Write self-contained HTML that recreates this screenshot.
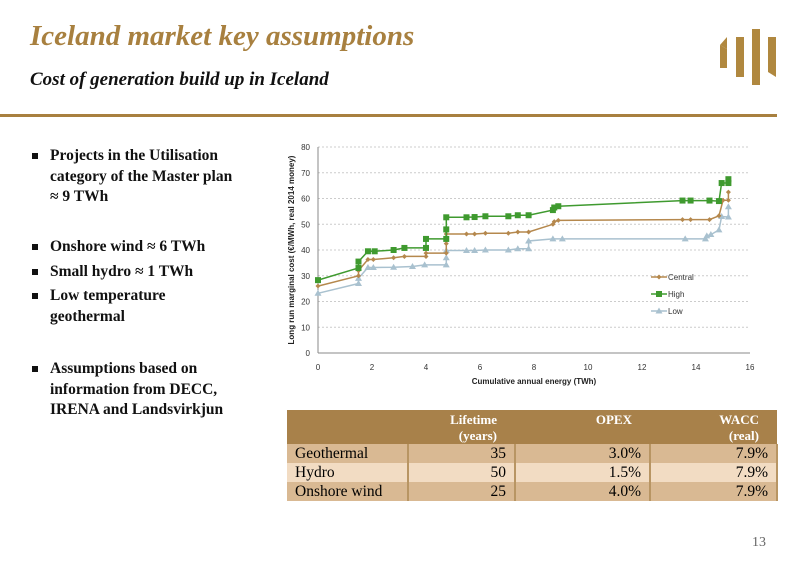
<!DOCTYPE html><html><head><meta charset="utf-8"><style>
body{margin:0;width:806px;height:568px;background:#fff;position:relative;overflow:hidden;font-family:"Liberation Serif",serif}
.t{position:absolute;color:#a8803f;font-weight:bold;font-style:italic}
ul{position:absolute;left:30px;width:240px;margin:0;padding:0;list-style:none;font-weight:bold;font-size:15.5px;color:#111}
li{position:relative;padding-left:20px;line-height:20.5px}
li:before{content:"";position:absolute;left:2px;top:7px;width:6px;height:6px;background:#111}
table{position:absolute;left:287px;top:410px;width:490px;border-collapse:collapse;font-size:15.5px;table-layout:fixed}
td{padding:0 8px;height:19px;text-align:right;border-right:2px solid #b89563}
td:first-child{text-align:left;padding-left:8px}
th{background:#a8814a;color:#fff;font-size:13px;text-align:right;padding:2px 18px 0 8px;height:32px;vertical-align:top;line-height:16px}
tr.a td{background:#d9b993}tr.b td{background:#f2dcc3}
</style></head><body>
<div class="t" style="left:30px;top:20px;font-size:29px">Iceland market key assumptions</div>
<div class="t" style="left:30px;top:69px;font-size:19px;color:#111">Cost of generation build up in Iceland</div>
<div style="position:absolute;left:0;top:114px;width:777px;height:3px;background:#a8803f"></div>
<svg style="position:absolute;left:0;top:0" width="806" height="120">
<g fill="#b0883f"><polygon points="720,45 727,49 727,68 720,68"/><polygon points="727,37 727,49 720,45"/><rect x="736" y="37" width="8" height="40"/><rect x="752" y="29" width="8" height="56"/><polygon points="768,37 776,37 776,77 768,72"/></g>
</svg>
<ul style="top:146px"><li>Projects in the Utilisation category of the Master plan<br>≈ 9 TWh</li></ul>
<ul style="top:237px"><li>Onshore wind ≈ 6 TWh</li><li style="margin-top:4px">Small hydro ≈ 1 TWh</li><li style="margin-top:4px">Low temperature<br>geothermal</li></ul>
<ul style="top:359px"><li>Assumptions based on information from DECC, IRENA and Landsvirkjun</li></ul>
<svg id="c" style="position:absolute;left:0;top:0" width="806" height="400" font-family="Liberation Sans,sans-serif"></svg>
<table><col style="width:121px"><col style="width:107px"><col style="width:135px"><col style="width:127px">
<tr><th></th><th>Lifetime<br>(years)</th><th>OPEX</th><th>WACC<br>(real)</th></tr>
<tr class="a"><td>Geothermal</td><td>35</td><td>3.0%</td><td>7.9%</td></tr>
<tr class="b"><td>Hydro</td><td>50</td><td>1.5%</td><td>7.9%</td></tr>
<tr class="a"><td>Onshore wind</td><td>25</td><td>4.0%</td><td>7.9%</td></tr></table>
<div style="position:absolute;left:752px;top:535px;font-size:14px;color:#666">13</div>
<script>
var X=x=>318+x*27,Y=y=>353-y*2.575,s='';
for(var v=0;v<=80;v+=10){s+=`<line x1="318" x2="750" y1="${Y(v)}" y2="${Y(v)}" stroke="#ccc" stroke-dasharray="2,2"/><text x="310" y="${Y(v)+3}" font-size="8" text-anchor="end" fill="#333">${v}</text>`}
for(var v=0;v<=16;v+=2)s+=`<text x="${X(v)}" y="370" font-size="8" text-anchor="middle" fill="#333">${v}</text>`;
s+=`<line x1="318" x2="318" y1="147" y2="353" stroke="#888"/><line x1="318" x2="750" y1="353" y2="353" stroke="#888"/>`;
s+=`<text x="534" y="384" font-size="8" font-weight="bold" text-anchor="middle" fill="#222">Cumulative annual energy (TWh)</text>`;
s+=`<text transform="translate(294,250) rotate(-90)" font-size="8" font-weight="bold" text-anchor="middle" fill="#222">Long run marginal cost (€/MWh, real 2014 money)</text>`;
var C=[[0,26],[1.5,30],[1.5,32],[1.85,36.3],[2.05,36.3],[2.8,37],[3.2,37.5],[4,37.5],[4,38.8],[4.75,38.8],[4.75,42.5],[4.75,46.2],[5.5,46.2],[5.8,46.2],[6.2,46.5],[7.05,46.5],[7.4,47],[7.8,47],[8.7,50],[8.75,51],[8.9,51.5],[13.5,51.8],[13.8,51.8],[14.5,51.8],[14.85,53.3],[15,59.3],[15.2,59.3],[15.2,62.5]];
var H=[[0,28.3],[1.5,33],[1.5,35.5],[1.85,39.5],[2.1,39.5],[2.8,40],[3.2,40.8],[4,40.8],[4,44.3],[4.75,44.3],[4.75,48],[4.75,52.7],[5.5,52.7],[5.8,52.8],[6.2,53.1],[7.05,53.1],[7.4,53.5],[7.8,53.5],[8.7,55.5],[8.75,56.5],[8.9,57],[13.5,59.2],[13.8,59.2],[14.5,59.2],[14.85,59],[14.95,66],[15.2,66],[15.2,67.5]];
var L=[[0,23.2],[1.5,27],[1.5,29],[1.85,33.2],[2.05,33.2],[2.8,33.3],[3.5,33.6],[3.95,34.2],[4.75,34.2],[4.75,37],[4.75,39.8],[5.5,39.8],[5.8,39.8],[6.2,40],[7.05,40],[7.4,40.5],[7.8,40.5],[7.8,43.5],[8.7,44.3],[9.05,44.3],[13.6,44.3],[14.35,44.3],[14.4,45.5],[14.55,46],[14.85,47.8],[14.95,53],[15.2,52.8],[15.2,56.8]];
function ser(d,c,m){var p=d.map(q=>X(q[0]).toFixed(1)+','+Y(q[1]).toFixed(1)).join(' ');s+=`<polyline points="${p}" fill="none" stroke="${c}" stroke-width="1.5"/>`;d.forEach(q=>s+=m(X(q[0]),Y(q[1])))}
var sq=c=>(x,y)=>`<rect x="${x-3}" y="${y-3}" width="6" height="6" fill="${c}"/>`;
var tr=c=>(x,y)=>`<polygon points="${x},${y-3.5} ${x+3.5},${y+2.5} ${x-3.5},${y+2.5}" fill="${c}"/>`;
var di=c=>(x,y)=>`<polygon points="${x},${y-2.5} ${x+2.5},${y} ${x},${y+2.5} ${x-2.5},${y}" fill="${c}"/>`;
ser(L,'#a9c1cf',tr('#a9c1cf'));ser(C,'#b5884d',di('#b5884d'));ser(H,'#3f9a2f',sq('#3f9a2f'));
[['Central','#b5884d',di,277],['High','#3f9a2f',sq,294],['Low','#a9c1cf',tr,311]].forEach(l=>{s+=`<line x1="651" x2="667" y1="${l[3]}" y2="${l[3]}" stroke="${l[1]}" stroke-width="1.5"/>`+l[2](l[1])(659,l[3])+`<text x="668" y="${l[3]+3}" font-size="8" fill="#333">${l[0]}</text>`});
document.getElementById('c').innerHTML=s;
</script>
</body></html>
